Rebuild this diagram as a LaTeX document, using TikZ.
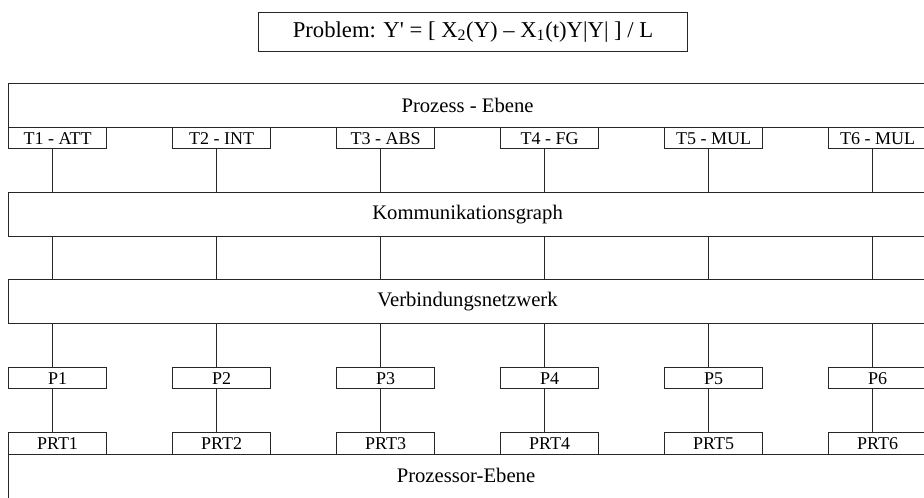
\documentclass[tikz,border=0pt]{standalone}
\usepackage{fontspec}
\setmainfont{Liberation Serif}
\begin{document}
\begin{tikzpicture}[x=0.75pt,y=-0.75pt,
  frame/.style={draw=black!85, line width=0.8pt, inner sep=0pt, anchor=north west},
  layer/.style={frame, minimum width=688.5pt, minimum height=33pt,
    font=\fontsize{15.5}{18}\selectfont},
  unit/.style={frame, minimum width=73.5pt, minimum height=16pt,
    font=\fontsize{13.5}{16}\selectfont},
  wire/.style={draw=black!85, line width=0.8pt}]
\useasboundingbox (0,0) rectangle (924,497);
\clip (0,0) rectangle (924,497);

% problem statement
\node[frame, minimum width=321.75pt, minimum height=29.25pt,
      font=\fontsize{17}{20}\selectfont] (prob) at (258,12)
  {Problem: Y\textquotesingle{} = [ X\textsubscript{2}(Y) – X\textsubscript{1}(t)Y|Y| ] / L};

% layers
\node[layer] (PE) at (8,83)  {Prozess - Ebene};
\node[layer] (K)  at (8,192) {Kommunikationsgraph};
\node[layer] (V)  at (8,279) {Verbindungsnetzwerk};
\node[layer, minimum height=60pt] (PO) at (8,454) {};
\node[font=\fontsize{15.5}{18}\selectfont] (POtext) at (466,475) {Prozessor-Ebene};

% tasks, processors and their ports
\foreach \i/\t in {1/T1 - ATT, 2/T2 - INT, 3/T3 - ABS, 4/T4 - FG, 5/T5 - MUL, 6/T6 - MUL} {
  \pgfmathsetmacro{\left}{8+164*(\i-1)}
  \node[unit] (T\i)   at (\left,127) {\t};
  \node[unit] (P\i)   at (\left,367) {P\i};
  \node[unit, minimum height=16.5pt] (PRT\i) at (\left,432) {PRT\i};
  \coordinate (c\i) at (\left+44.5,0);
  \path[wire] (c\i |- T\i.south) -- (c\i |- K.north);
  \path[wire] (c\i |- K.south)   -- (c\i |- V.north);
  \path[wire] (c\i |- V.south)   -- (c\i |- P\i.north);
  \path[wire] (c\i |- P\i.south) -- (c\i |- PRT\i.north);
}
\end{tikzpicture}
\end{document}
